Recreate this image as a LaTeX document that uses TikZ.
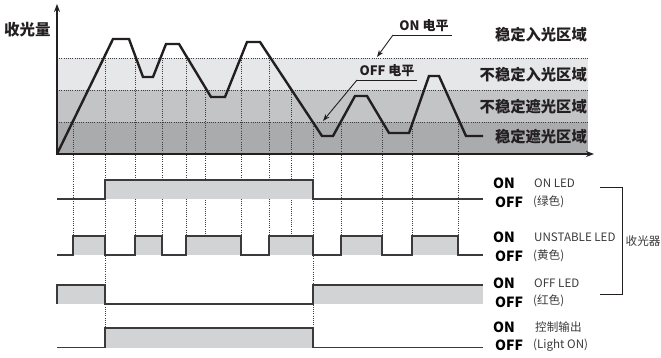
\documentclass[tikz,border=0pt]{standalone}
\usepackage{fontspec}
\setmainfont{Noto Sans CJK SC}
\usetikzlibrary{arrows.meta}
\definecolor{bandA}{HTML}{E6E7E8}
\definecolor{bandB}{HTML}{C3C4C6}
\definecolor{bandC}{HTML}{A9ABAD}
\definecolor{sigfill}{HTML}{D1D3D4}
\definecolor{ink}{HTML}{231F20}
\definecolor{sigline}{HTML}{3A3A3C}
\definecolor{dotc}{HTML}{3D3D3F}
\definecolor{txtl}{HTML}{3A3A3A}
\tikzset{
  dotline/.style={dotc, line width=0.75pt, dash pattern=on 1pt off 1.2pt},
  wave/.style={ink, line width=2.4pt, line join=miter},
  sig/.style={sigline, line width=1.2pt},
  sigbox/.style={sigfill},
  zonelbl/.style={anchor=east, font=\fontsize{15.3}{16}\selectfont\bfseries, text=ink, inner sep=0pt},
  onoff/.style={anchor=west, font=\fontsize{14}{14}\selectfont\bfseries, text=black, inner sep=0pt},
  ledlbl/.style={anchor=west, font=\fontsize{11.6}{12}\selectfont, text=txtl, inner sep=0pt},
  lvllbl/.style={font=\fontsize{13}{13}\selectfont\bfseries, text=ink, inner sep=0pt},
  pointer/.style={ink, line width=0.9pt, -{Stealth[length=7pt,width=5pt]}},
}
\begin{document}
\begin{tikzpicture}[x=1pt,y=-1pt]
\useasboundingbox (0,0) rectangle (661,358);
% bands
\fill[bandA] (57,58) rectangle (588,90);
\fill[bandB] (57,90) rectangle (588,122);
\fill[bandC] (57,122) rectangle (588,154);
\foreach \yy in {58,90,122} \draw[dotline] (57,\yy) -- (588,\yy);
% vertical dotted lines
\foreach \xx/\ys/\ye in {73/122/236,105/58/328,135/58/236,162/58/236,186/58/236,205/90/236,241/58/236,269/58/236,291/90/236,313/122/328,341/122/236,382/122/236,412/122/236,458/122/236}
  \draw[dotline] (\xx,\ys) -- (\xx,\ye);
% waveform
\draw[wave] (57,154) -- (113,39) -- (129,39) -- (143,77) -- (153,77) -- (166,44) -- (179,44) -- (211,97) -- (225,97) -- (247,42) -- (260,42) -- (322,136) -- (333,136) -- (355,96) -- (367,96) -- (389,133) -- (409,133) -- (429,76) -- (439,76) -- (466,136) -- (483,136);
% axes
\draw[ink, line width=2pt, -{Stealth[length=8pt,width=6pt]}] (57,154) -- (594,154);
\draw[ink, line width=2pt, -{Stealth[length=8pt,width=6pt]}] (57,155) -- (57,4);
\node[anchor=west, font=\fontsize{15.5}{16}\selectfont\bfseries, text=ink, inner sep=0pt] (ylbl) at (4,30) {收光量};
% zone labels
\node[zonelbl] (z1) at (587,35) {稳定入光区域};
\node[zonelbl] (z2) at (587,75) {不稳定入光区域};
\node[zonelbl] (z3) at (587,107) {不稳定遮光区域};
\node[zonelbl] (z4) at (587,137) {稳定遮光区域};
% level labels
\node[lvllbl] (onlv) at (424,26) {ON 电平};
\node[lvllbl] (offlv) at (387,71) {OFF 电平};
\coordinate (onA) at (393,35);
\coordinate (onB) at (452,35);
\coordinate (onT) at (377,57);
\coordinate (offA) at (357,80);
\coordinate (offB) at (417,80);
\coordinate (offT) at (323,121);
\draw[ink, line width=0.9pt] (onB) -- (onA);
\draw[pointer] (onA) -- (onT);
\draw[ink, line width=0.9pt] (offB) -- (offA);
\draw[pointer] (offA) -- (offT);
% ON LED
\fill[sigbox] (105,180) rectangle (313,199);
\draw[sig] (57,199) -- (105,199) -- (105,180) -- (313,180) -- (313,199) -- (483,199);
% UNSTABLE LED
\foreach \a/\b in {73/105,135/162,186/241,269/313,341/382,412/458}
  \fill[sigbox] (\a,236) rectangle (\b,255);
\draw[sig] (57,255) -- (73,255) -- (73,236) -- (105,236) -- (105,255) -- (135,255) -- (135,236) -- (162,236) -- (162,255) -- (186,255) -- (186,236) -- (241,236) -- (241,255) -- (269,255) -- (269,236) -- (313,236) -- (313,255) -- (341,255) -- (341,236) -- (382,236) -- (382,255) -- (412,255) -- (412,236) -- (458,236) -- (458,255) -- (483,255);
% OFF LED
\fill[sigbox] (57,285) rectangle (105,304);
\fill[sigbox] (313,285) rectangle (483,304);
\draw[sig] (57,304) -- (57,285) -- (105,285) -- (105,304) -- (313,304) -- (313,285) -- (483,285);
% control output
\fill[sigbox] (105,328) rectangle (313,347.5);
\draw[sig] (57,347.5) -- (105,347.5) -- (105,328) -- (313,328) -- (313,347.5) -- (483,347.5);
% right labels
\node[onoff] (on1) at (493,183) {ON};
\node[onoff] (off1) at (495,202) {OFF};
\node[ledlbl] (l1a) at (534,183) {ON LED};
\node[ledlbl] (l1b) at (533,202) {(绿色)};
\node[onoff] (on2) at (493,237) {ON};
\node[onoff] (off2) at (495,256) {OFF};
\node[ledlbl] (l2a) at (534,237) {UNSTABLE LED};
\node[ledlbl] (l2b) at (533,256) {(黄色)};
\node[onoff] (on3) at (493,283) {ON};
\node[onoff] (off3) at (495,302) {OFF};
\node[ledlbl] (l3a) at (534,283) {OFF LED};
\node[ledlbl] (l3b) at (533,301) {(红色)};
\node[onoff] (on4) at (493,327) {ON};
\node[onoff] (off4) at (495,345) {OFF};
\node[ledlbl] (l4a) at (535,327) {控制输出};
\node[ledlbl] (l4b) at (533,345) {(Light ON)};
% bracket
\coordinate (bt) at (600,187);
\coordinate (btr) at (622,187);
\coordinate (bbr) at (622,294);
\coordinate (bb) at (600,294);
\draw[ink, line width=0.9pt] (bt) -- (btr) -- (bbr) -- (bb);
\node[ledlbl] (rx) at (625.5,241) {收光器};
\end{tikzpicture}
\end{document}
